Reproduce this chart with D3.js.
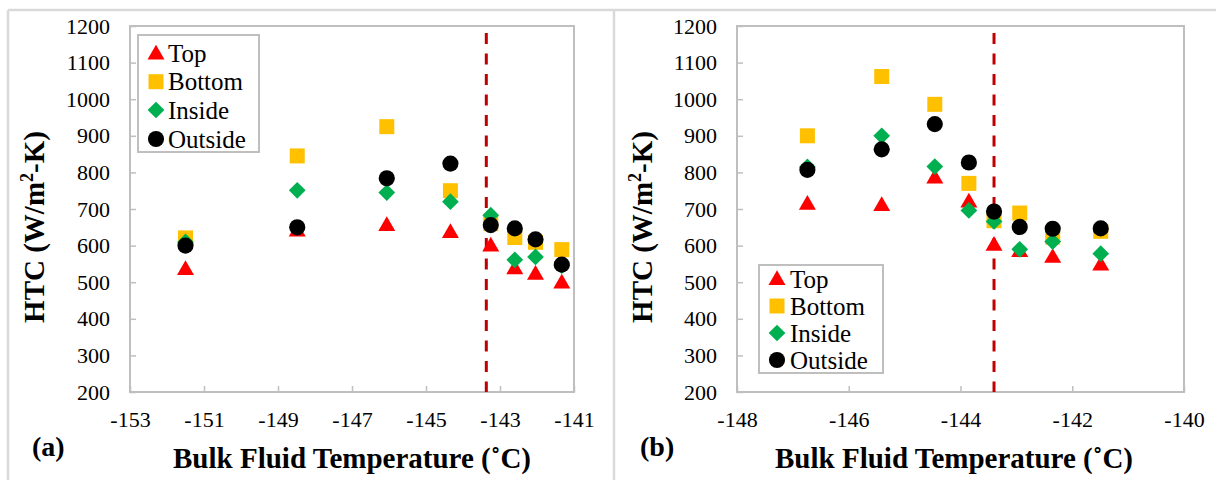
<!DOCTYPE html>
<html><head><meta charset="utf-8">
<script src="https://cdn.jsdelivr.net/npm/d3@7"></script>
<style>
html,body{margin:0;padding:0;background:#fff;}
svg{display:block;}
</style></head>
<body>
<svg id="chart" width="1216" height="480" font-family="Liberation Serif"></svg>
<script>
// ---- data ----
const seriesNames = ["Top", "Bottom", "Inside", "Outside"];
const seriesColors = ["#FF0000", "#FFC000", "#00B050", "#000000"];
const yTicks = [200, 300, 400, 500, 600, 700, 800, 900, 1000, 1100, 1200];

const xTicksA = [-153, -151, -149, -147, -145, -143, -141];
const tempsA = [-151.5, -148.48, -146.06, -144.34, -143.25, -142.6, -142.04, -141.33];
const topA = [536, 641, 656, 637, 600, 538, 523, 499];
const bottomA = [621, 845, 925, 750, 660, 622, 609, 589];
const insideA = [610, 751, 745, 720, 683, 561, 569, 545];
const outsideA = [600, 650, 784, 824, 656, 647, 617, 548];
const dashA = -143.37;

const xTicksB = [-148, -146, -144, -142, -140];
const tempsB = [-146.74, -145.41, -144.46, -143.85, -143.4, -142.94, -142.35, -141.49];
const topB = [714, 711, 786, 720, 602, 585, 569, 548];
const bottomB = [900, 1062, 986, 770, 668, 689, 623, 639];
const insideB = [815, 900, 816, 696, 666, 590, 611, 578];
const outsideB = [807, 863, 932, 827, 693, 651, 646, 647];
const dashB = -143.4;

// ---- layout ----
const FONT = "Liberation Serif";
const svg = d3.select("#chart");
svg.append("rect").attr("width",1216).attr("height",480).attr("fill","#fff");
svg.append("line").attr("x1",8).attr("x2",1216).attr("y1",10).attr("y2",10).attr("stroke","#d9d9d9").attr("stroke-width",2.5);
svg.append("line").attr("x1",8).attr("x2",8).attr("y1",10).attr("y2",480).attr("stroke","#d9d9d9").attr("stroke-width",2.5);
svg.append("line").attr("x1",614).attr("x2",614).attr("y1",10).attr("y2",480).attr("stroke","#d9d9d9").attr("stroke-width",2.5);

const panels = [
  {x0:130, x1:574, domain:[-153,-141], ticks:xTicksA, temps:tempsA, vals:[topA,bottomA,insideA,outsideA], dash:dashA,
   label:"(a)", labelX:32, yTitleX:44, xTitleX:352,
   legend:{x:138, y:35, w:121, h:117, mx:156, tx:168, rows:[53.5,81.7,110,139]}},
  {x0:737, x1:1184, domain:[-148,-140], ticks:xTicksB, temps:tempsB, vals:[topB,bottomB,insideB,outsideB], dash:dashB,
   label:"(b)", labelX:640, yTitleX:652, xTitleX:954,
   legend:{x:759, y:265, w:124, h:108, mx:777, tx:790, rows:[279,306,333,360]}}
];
const y0 = 26, y1 = 392;

function markerPath(i){
  if(i===0) return d3.symbol(d3.symbolTriangle, 125)();
  if(i===1) return d3.symbol(d3.symbolSquare, 225)();
  if(i===2) return d3.symbol(d3.symbolSquare, 140)();
  return d3.symbol(d3.symbolCircle, 205)();
}
function markerTransform(i, x, y){
  if(i===0) return `translate(${x},${y+1})`;
  if(i===2) return `translate(${x},${y}) rotate(45)`;
  return `translate(${x},${y})`;
}
function serif(sel){ return sel.attr("font-family",FONT).attr("fill","#000"); }

panels.forEach((p, pi) => {
  const g = svg.append("g");
  const x = d3.scaleLinear().domain(p.domain).range([p.x0, p.x1]);
  const y = d3.scaleLinear().domain([200,1200]).range([y1, y0]);

  g.append("rect").attr("x",p.x0).attr("y",y0).attr("width",p.x1-p.x0).attr("height",y1-y0)
    .attr("fill","none").attr("stroke","#bfbfbf").attr("stroke-width",2);

  const ax = g.append("g").attr("transform",`translate(0,${y1})`)
    .call(d3.axisBottom(x).tickValues(p.ticks).tickSize(-6).tickPadding(19).tickFormat(d => String(d)));
  const ay = g.append("g").attr("transform",`translate(${p.x0},0)`)
    .call(d3.axisLeft(y).tickValues(yTicks).tickSize(-6).tickPadding(20).tickFormat(d => String(d)));
  [ax, ay].forEach(a => {
    a.attr("font-family", FONT).attr("font-size", 22);
    a.select(".domain").remove();
    a.selectAll(".tick line").attr("stroke","#bfbfbf").attr("stroke-width",1.5);
    serif(a.selectAll(".tick text")).attr("font-size",22);
  });

  g.append("line").attr("x1",x(p.dash)).attr("x2",x(p.dash)).attr("y1",33).attr("y2",y1)
    .attr("stroke","#C00000").attr("stroke-width",3).attr("stroke-dasharray","11,9.5");

  p.vals.forEach((vals, si) => {
    g.append("g").selectAll("path").data(vals).join("path")
      .attr("d", markerPath(si))
      .attr("transform", (v, k) => markerTransform(si, x(p.temps[k]), y(v)))
      .attr("fill", seriesColors[si]);
  });

  const L = p.legend;
  g.append("rect").attr("x",L.x).attr("y",L.y).attr("width",L.w).attr("height",L.h)
    .attr("fill","#fff").attr("stroke","#bfbfbf").attr("stroke-width",2);
  seriesNames.forEach((n, si) => {
    g.append("path").attr("d", markerPath(si)).attr("transform", markerTransform(si, L.mx, L.rows[si])).attr("fill", seriesColors[si]);
    serif(g.append("text")).attr("x",L.tx).attr("y",L.rows[si]).attr("dy","0.35em").attr("font-size",25).text(n);
  });

  const yt = serif(g.append("text")).attr("transform",`translate(${p.yTitleX},227) rotate(-90)`)
    .attr("text-anchor","middle").attr("font-size",29).attr("font-weight","bold");
  yt.append("tspan").text("HTC (W/m");
  yt.append("tspan").attr("font-size",18).attr("dy",-11).text("2");
  yt.append("tspan").attr("dy",11).text("-K)");

  serif(g.append("text")).attr("x",p.xTitleX).attr("y",468).attr("text-anchor","middle")
    .attr("font-size",29).attr("font-weight","bold").text("Bulk Fluid Temperature (\u02DAC)");
  serif(g.append("text")).attr("x",p.labelX).attr("y",456).attr("font-size",28).attr("font-weight","bold").text(p.label);
});
</script>
</body></html>
